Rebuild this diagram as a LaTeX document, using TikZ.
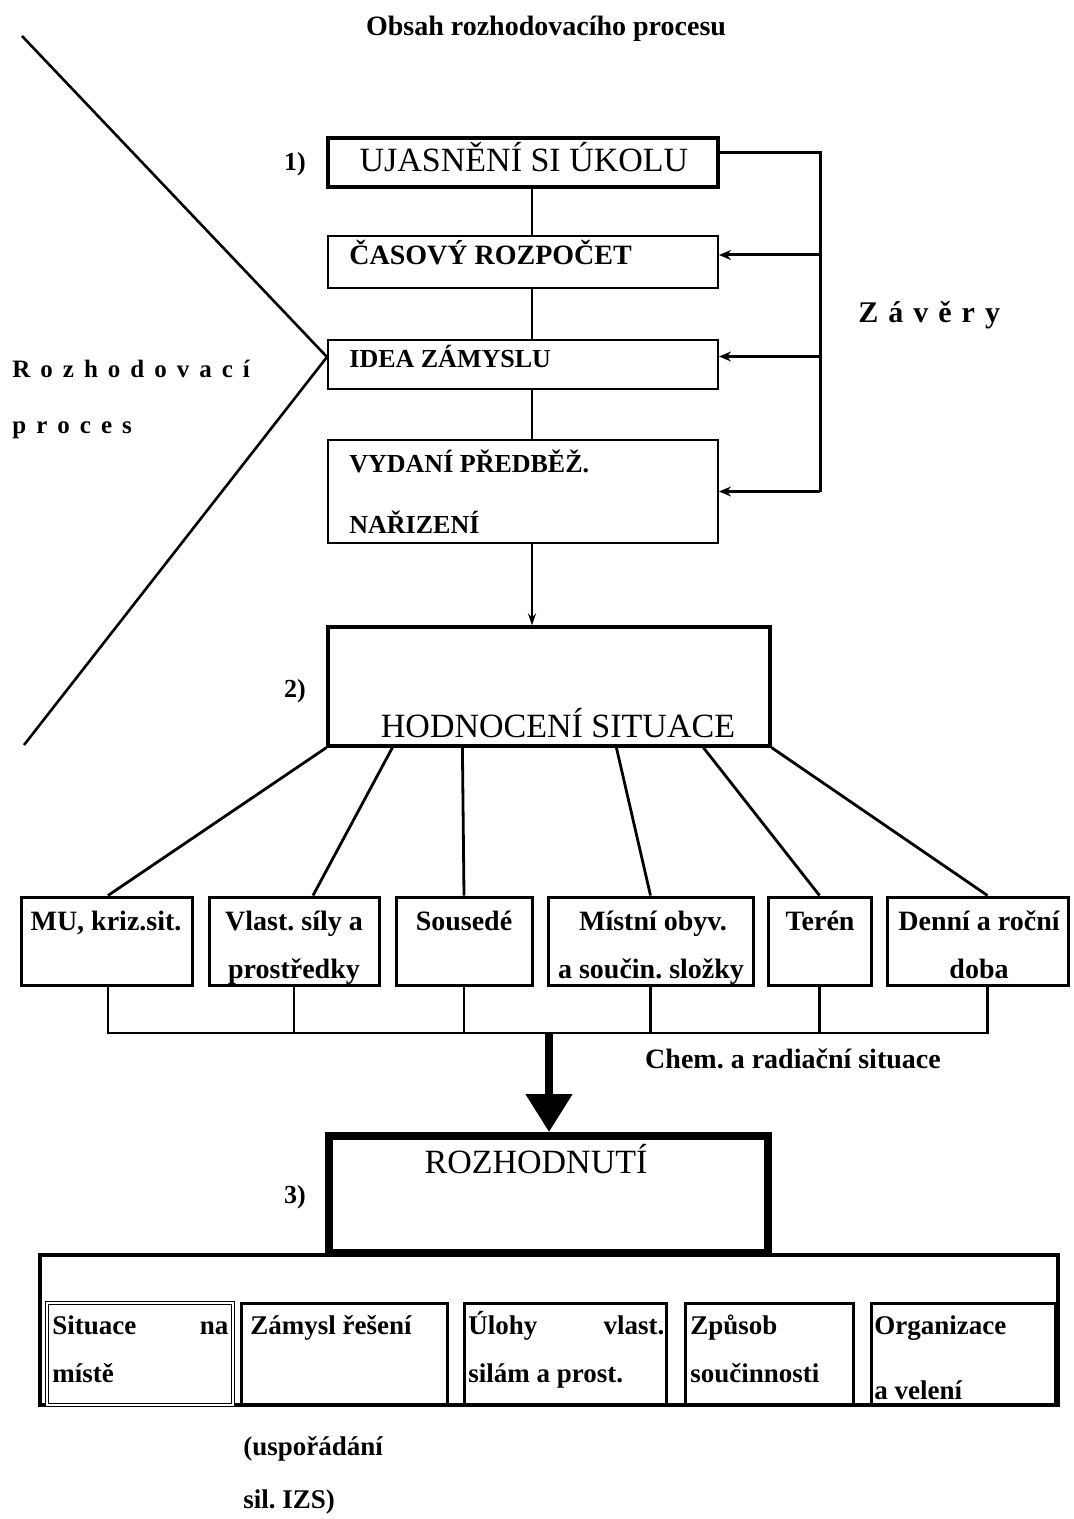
\documentclass[tikz,border=0pt]{standalone}
\usepackage{fontspec}
\setmainfont{Liberation Serif}
\usetikzlibrary{arrows.meta}
\newcommand{\lgap}{\kern5pt}

\tikzset{
	box/.style={draw, line width=1pt, inner sep=0pt},
	txt/.style={inner sep=0pt, anchor=base, font=\bfseries\fontsize{14}{16}\selectfont},
	txtl/.style={txt, anchor=base west},
	cell/.style={txtl, font=\bfseries\fontsize{13.5}{16}\selectfont},
	big/.style={font=\fontsize{17}{19}\selectfont},
	wire/.style={line width=1pt},
	fan/.style={line width=1.4pt},
	feed/.style={line width=1.5pt, -{Stealth[length=6pt, width=5pt]}}
}

\begin{document}
\frenchspacing
\begin{tikzpicture}[x=0.5pt, y=-0.5pt]
	\useasboundingbox (0,0) rectangle (1074,1519);
	\node[txt] (head) at (546,36) {Obsah rozhodovacího procesu};

	\coordinate (vtop) at (22,36);
	\coordinate (vtip) at (327,357);
	\coordinate (vbot) at (24,745);
	\draw[line width=1.3pt] (vtop) -- (vtip) -- (vbot);
	\node[txtl, font=\bfseries\fontsize{12.5}{14}\selectfont] (rozh1) at (12,378) {R\lgap o\lgap z\lgap h\lgap o\lgap d\lgap o\lgap v\lgap a\lgap c\lgap í};
	\node[txtl, font=\bfseries\fontsize{12.5}{14}\selectfont] (rozh2) at (12,433) {p\lgap r\lgap o\lgap c\lgap e\lgap s};

	\node[box, line width=1.8pt, minimum width=195pt, minimum height=24.5pt] (ukol) at (523,162.5) {};
	\node[box, minimum width=195pt, minimum height=26pt] (casovy) at (523,262) {};
	\node[box, minimum width=195pt, minimum height=24.5pt] (idea) at (523,364.5) {};
	\node[box, minimum width=195pt, minimum height=51.5pt] (vydani) at (523,491.5) {};
	\node[box, line width=1.6pt, minimum width=221pt, minimum height=59.5pt] (hodn) at (549,686.5) {};

	\node[txt, big] (ukolt) at (524,172) {UJASNĚNÍ SI ÚKOLU};
	\node[txtl] (casovyt) at (349,265) {ČASOVÝ ROZPOČET};
	\node[txtl, font=\bfseries\fontsize{13}{15}\selectfont] (ideat) at (349,367) {IDEA ZÁMYSLU};
	\node[txtl, font=\bfseries\fontsize{13}{15}\selectfont] (vydanit) at (349,472) {VYDANÍ PŘEDBĚŽ.};
	\node[txtl, font=\bfseries\fontsize{13}{15}\selectfont] (vydanib) at (349,533) {NAŘIZENÍ};
	\node[txt, big] (hodnt) at (558,737) {HODNOCENÍ SITUACE};
	\node[txt, font=\bfseries\fontsize{13}{15}\selectfont] (n1) at (295,171) {1)};
	\node[txt, font=\bfseries\fontsize{13}{15}\selectfont] (n2) at (295,697) {2)};

	\coordinate (spine) at (532,0);
	\draw[wire] (ukol.south -| spine) -- (casovy.north -| spine);
	\draw[wire] (casovy.south -| spine) -- (idea.north -| spine);
	\draw[wire] (idea.south -| spine) -- (vydani.north -| spine);
	\draw[wire, -{Stealth[length=6pt, width=4pt]}] (vydani.south -| spine) -- (hodn.north -| spine);

	\coordinate (rail) at (820,153);
	\coordinate (in2) at ([yshift=3.5pt]casovy.east);
	\coordinate (in3) at ([yshift=4pt]idea.east);
	\draw[line width=1.5pt] (ukol.east |- rail) -- (rail) -- (rail |- vydani.east);
	\draw[feed] (rail |- in2) -- (in2);
	\draw[feed] (rail |- in3) -- (in3);
	\draw[feed] (rail |- vydani.east) -- (vydani.east);
	\node[txtl, font=\bfseries\fontsize{15}{17}\selectfont] (zavery) at (858,322) {Z\lgap á\lgap v\lgap ě\lgap r\lgap y};

	\node[box, line width=1.5pt, minimum width=85.5pt, minimum height=44pt] (b1) at (106.5,941) {};
	\node[box, line width=1.5pt, minimum width=85pt, minimum height=44pt] (b2) at (294,941) {};
	\node[box, line width=1.5pt, minimum width=68pt, minimum height=44pt] (b3) at (464,941) {};
	\node[box, line width=1.5pt, minimum width=102.5pt, minimum height=44pt] (b4) at (650.5,941) {};
	\node[box, line width=1.5pt, minimum width=51.5pt, minimum height=44pt] (b5) at (819.5,941) {};
	\node[box, line width=1.5pt, minimum width=90.5pt, minimum height=44pt] (b6) at (977.5,941) {};

	\node[txt] (b1t) at (106,930) {MU, kriz.sit.};
	\node[txt] (b2t) at (294,930) {Vlast. síly a};
	\node[txt] (b2b) at (294,978) {prostředky};
	\node[txt] (b3t) at (464,930) {Sousedé};
	\node[txt] (b4t) at (653,930) {Místní obyv.};
	\node[txt] (b4b) at (651,978) {a součin. složky};
	\node[txt] (b5t) at (820,930) {Terén};
	\node[txt] (b6t) at (979,930) {Denní a roční};
	\node[txt] (b6b) at (979,978) {doba};

	\draw[fan] (hodn.south west) -- ([xshift=0.75pt]b1.north);
	\draw[fan] ([xshift=33pt]hodn.south west) -- ([xshift=9.5pt]b2.north);
	\draw[fan] ([xshift=68pt]hodn.south west) -- (b3.north);
	\draw[fan] ([xshift=145pt]hodn.south west) -- (b4.north);
	\draw[fan] ([xshift=188.5pt]hodn.south west) -- (b5.north);
	\draw[fan] (hodn.south east) -- ([xshift=5pt]b6.north);

	\coordinate (bus) at (549,1033);
	\coordinate (d1) at ([xshift=0.75pt]b1.south);
	\coordinate (d6) at ([xshift=5pt]b6.south);
	\draw[fan] (d1) -- (d1 |- bus) -- (d6 |- bus) -- (d6);
	\draw[fan] (b2.south) -- (b2.south |- bus);
	\draw[fan] (b3.south) -- (b3.south |- bus);
	\draw[fan] (b4.south) -- (b4.south |- bus);
	\draw[fan] (b5.south) -- (b5.south |- bus);
	\node[txt] (chem) at (793,1068) {Chem. a radiační situace};

	\node[box, line width=2pt, minimum width=509pt, minimum height=75pt] (plan) at (549,1330) {};
	\node[box, line width=4pt, minimum width=219.5pt, minimum height=58.5pt] (rozh) at (548.5,1194.5) {};
	\draw[line width=4pt, -{Triangle[length=19pt, width=22.5pt]}] (bus) -- (bus |- rozh.north);
	\node[txt, big] (rozht) at (536,1173) {ROZHODNUTÍ};
	\node[txt, font=\bfseries\fontsize{13}{15}\selectfont] (n3) at (295,1203) {3)};

	\node[box, line width=0.8pt, double, double distance=0.6pt, minimum width=93pt, minimum height=51pt] (c1) at (140,1354) {};
	\node[box, line width=1.5pt, minimum width=103pt, minimum height=51pt] (c2) at (344,1354) {};
	\node[box, line width=1.5pt, minimum width=101pt, minimum height=51pt] (c3) at (565,1354) {};
	\node[box, line width=1.5pt, minimum width=84pt, minimum height=51pt] (c4) at (769,1354) {};
	\node[box, line width=1.5pt, minimum width=92pt, minimum height=51pt] (c5) at (963,1354) {};

	\node[cell, text width=88pt, align=left] (c1t) at (52,1334) {Situace\hfill na};
	\node[cell] (c1b) at (52,1382) {místě};
	\node[cell] (c2t) at (250,1334) {Zámysl řešení};
	\node[cell, text width=98pt, align=left] (c3t) at (468,1334) {Úlohy\hfill vlast.};
	\node[cell] (c3b) at (468,1382) {silám a prost.};
	\node[cell] (c4t) at (690,1334) {Způsob};
	\node[cell] (c4b) at (690,1382) {součinnosti};
	\node[cell] (c5t) at (874,1334) {Organizace};
	\node[cell] (c5b) at (874,1399) {a velení};
	\node[cell] (note1) at (243,1455) {(uspořádání};
	\node[cell] (note2) at (243,1508) {sil. IZS)};

\end{tikzpicture}
\end{document}
